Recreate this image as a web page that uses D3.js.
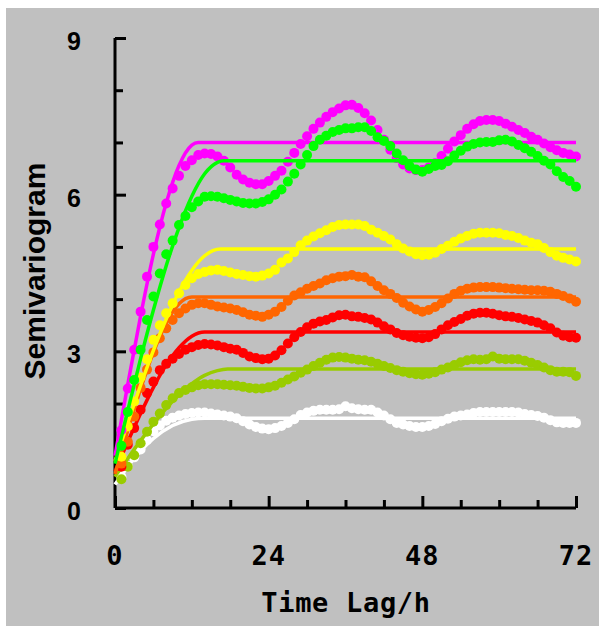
<!DOCTYPE html>
<html>
<head>
<meta charset="utf-8">
<script src="https://cdn.jsdelivr.net/npm/d3@7"></script>
<style>
  body { margin: 0; background: #fff; }
  svg { display: block; }
</style>
</head>
<body>
<div id="chart"></div>
<script>
// time lags (h) of the experimental semivariogram points
const lags = [1, 2, 3, 4, 5, 6, 7, 8, 9, 10, 11, 12, 13, 14, 15, 16, 17, 18, 19, 20,
  21, 22, 23, 24, 25, 26, 27, 28, 29, 30, 31, 32, 33, 34, 35, 36, 37, 38, 39, 40,
  41, 42, 43, 44, 45, 46, 47, 48, 49, 50, 51, 52, 53, 54, 55, 56, 57, 58, 59, 60,
  61, 62, 63, 64, 65, 66, 67, 68, 69, 70, 71, 72];

const magenta = [1.49, 2.29, 3.03, 3.76, 4.43, 5.0, 5.43, 5.83, 6.12, 6.36,
  6.55, 6.66, 6.76, 6.79, 6.78, 6.73, 6.65, 6.52, 6.38, 6.29,
  6.23, 6.2, 6.2, 6.26, 6.36, 6.46, 6.63, 6.8, 6.97, 7.12,
  7.26, 7.38, 7.49, 7.58, 7.65, 7.71, 7.72, 7.66, 7.56, 7.42,
  7.24, 7.05, 6.86, 6.7, 6.58, 6.5, 6.47, 6.47, 6.52, 6.6,
  6.74, 6.88, 7.02, 7.14, 7.26, 7.35, 7.41, 7.43, 7.43, 7.41,
  7.36, 7.3, 7.24, 7.18, 7.11, 7.05, 6.98, 6.91, 6.85, 6.8,
  6.77, 6.73];

const green = [1.19, 1.84, 2.45, 3.03, 3.6, 4.05, 4.49, 4.86, 5.12, 5.42,
  5.59, 5.76, 5.87, 5.96, 5.97, 5.96, 5.93, 5.9, 5.87, 5.84,
  5.83, 5.83, 5.86, 5.91, 6.0, 6.1, 6.25, 6.4, 6.58, 6.76,
  6.93, 7.05, 7.13, 7.2, 7.24, 7.27, 7.27, 7.29, 7.29, 7.22,
  7.1, 7.03, 6.93, 6.79, 6.66, 6.55, 6.48, 6.44, 6.49, 6.55,
  6.57, 6.64, 6.75, 6.84, 6.92, 6.97, 7.0, 7.01, 7.01, 7.04,
  7.05, 7.02, 6.95, 6.89, 6.82, 6.74, 6.65, 6.58, 6.45, 6.34,
  6.26, 6.15];

const yellow = [0.98, 1.56, 2.04, 2.5, 2.85, 3.22, 3.5, 3.73, 3.92, 4.11,
  4.27, 4.4, 4.48, 4.52, 4.55, 4.56, 4.54, 4.51, 4.48, 4.46,
  4.44, 4.43, 4.45, 4.49, 4.56, 4.7, 4.78, 4.9, 5.03, 5.12,
  5.2, 5.26, 5.32, 5.38, 5.42, 5.43, 5.43, 5.43, 5.4, 5.33,
  5.27, 5.21, 5.14, 5.05, 4.97, 4.91, 4.86, 4.84, 4.85, 4.89,
  4.96, 5.02, 5.1, 5.16, 5.21, 5.25, 5.27, 5.27, 5.27, 5.26,
  5.23, 5.21, 5.17, 5.12, 5.08, 5.05, 4.98, 4.9, 4.83, 4.79,
  4.76, 4.72];

const orange = [0.85, 1.27, 1.75, 2.3, 2.65, 2.98, 3.25, 3.44, 3.6, 3.73,
  3.82, 3.89, 3.92, 3.92, 3.89, 3.86, 3.84, 3.82, 3.79, 3.75,
  3.7, 3.68, 3.66, 3.7, 3.76, 3.85, 3.97, 4.07, 4.13, 4.2,
  4.25, 4.3, 4.36, 4.4, 4.43, 4.44, 4.46, 4.43, 4.42, 4.34,
  4.25, 4.17, 4.1, 4.02, 3.93, 3.86, 3.8, 3.76, 3.79, 3.85,
  3.92, 4.01, 4.1, 4.16, 4.2, 4.22, 4.23, 4.23, 4.23, 4.22,
  4.21, 4.2, 4.19, 4.18, 4.17, 4.17, 4.16, 4.14, 4.1, 4.06,
  4.01, 3.95];

const red = [0.79, 1.21, 1.53, 1.88, 2.2, 2.42, 2.64, 2.76, 2.86, 2.95,
  3.03, 3.08, 3.12, 3.14, 3.13, 3.11, 3.08, 3.05, 3.03, 2.97,
  2.9, 2.87, 2.85, 2.86, 2.92, 3.02, 3.15, 3.27, 3.37, 3.46,
  3.53, 3.57, 3.6, 3.65, 3.69, 3.7, 3.67, 3.66, 3.64, 3.61,
  3.55, 3.48, 3.42, 3.35, 3.31, 3.28, 3.26, 3.25, 3.27, 3.33,
  3.42, 3.5, 3.56, 3.62, 3.68, 3.72, 3.74, 3.74, 3.72, 3.69,
  3.67, 3.66, 3.64, 3.61, 3.58, 3.55, 3.5, 3.44, 3.36, 3.3,
  3.27, 3.26];

const yellowGreen = [0.55, 0.79, 1.01, 1.24, 1.46, 1.65, 1.81, 1.97, 2.1, 2.2,
  2.26, 2.31, 2.35, 2.37, 2.37, 2.37, 2.36, 2.35, 2.34, 2.32,
  2.3, 2.29, 2.29, 2.31, 2.34, 2.4, 2.46, 2.52, 2.59, 2.65,
  2.72, 2.78, 2.84, 2.88, 2.89, 2.88, 2.86, 2.84, 2.83, 2.8,
  2.76, 2.72, 2.68, 2.64, 2.61, 2.58, 2.56, 2.55, 2.57, 2.6,
  2.65, 2.69, 2.74, 2.79, 2.83, 2.85, 2.84, 2.85, 2.9, 2.86,
  2.85, 2.85, 2.85, 2.82, 2.78, 2.74, 2.69, 2.64, 2.61, 2.61,
  2.6, 2.53];

const white = [0.6, 0.8, 0.97, 1.12, 1.3, 1.47, 1.58, 1.67, 1.73, 1.77,
  1.8, 1.82, 1.83, 1.83, 1.81, 1.79, 1.77, 1.75, 1.72, 1.66,
  1.6, 1.55, 1.52, 1.51, 1.53, 1.57, 1.63, 1.7, 1.78, 1.83,
  1.86, 1.88, 1.88, 1.88, 1.89, 1.95, 1.91, 1.89, 1.88, 1.88,
  1.83, 1.77, 1.7, 1.63, 1.6, 1.57, 1.55, 1.55, 1.57, 1.61,
  1.66, 1.71, 1.75, 1.77, 1.79, 1.82, 1.84, 1.84, 1.84, 1.84,
  1.84, 1.84, 1.83, 1.8, 1.78, 1.76, 1.73, 1.68, 1.64, 1.63,
  1.63, 1.63];

// fitted model lines, [lag, value]
const fitMagenta = [[0, 1.0], [2, 2.37], [4, 3.68], [6, 4.86], [8, 5.84], [10, 6.56], [12, 6.95], [13, 7.0], [72, 7.0]];
const fitGreen = [[0, 0.85], [2, 1.87], [4, 2.86], [6, 3.79], [8, 4.64], [10, 5.37], [12, 5.97], [14, 6.4], [16, 6.62], [17, 6.65], [72, 6.65]];
const fitYellow = [[0, 0.9], [2, 1.63], [4, 2.35], [6, 3.02], [8, 3.62], [10, 4.14], [12, 4.55], [14, 4.83], [16.5, 4.96], [72, 4.96]];
const fitOrange = [[0, 0.65], [2, 1.49], [4, 2.28], [6, 2.98], [8, 3.54], [10, 3.91], [12, 4.04], [72, 4.04]];
const fitRed = [[0, 0.7], [2, 1.27], [4, 1.81], [6, 2.31], [8, 2.74], [10, 3.07], [12, 3.29], [14, 3.37], [72, 3.37]];
const fitYellowGreen = [[0, 0.6], [2, 0.95], [4, 1.29], [6, 1.61], [8, 1.91], [10, 2.17], [12, 2.38], [14, 2.54], [16, 2.63], [17.6, 2.66], [72, 2.66]];
const fitWhite = [[0, 0.45], [3, 0.95], [6, 1.33], [9, 1.58], [12, 1.7], [14, 1.72], [72, 1.72]];

const xTicks = [0, 24, 48, 72];
const yTicks = [0, 3, 6, 9];

const series = [
  { color: "#ffffff", values: white, fit: fitWhite },
  { color: "#99cc00", values: yellowGreen, fit: fitYellowGreen },
  { color: "#ff0000", values: red, fit: fitRed },
  { color: "#ff6600", values: orange, fit: fitOrange },
  { color: "#ffff00", values: yellow, fit: fitYellow },
  { color: "#ff00ff", values: magenta, fit: fitMagenta },
  { color: "#00ff00", values: green, fit: fitGreen }
];

const width = 599, height = 626;

const svg = d3.select("#chart").append("svg")
  .attr("width", width)
  .attr("height", height);

svg.append("rect")
  .attr("x", 6).attr("y", 8)
  .attr("width", width - 6).attr("height", height - 8)
  .attr("fill", "#c0c0c0");

const x = d3.scaleLinear().domain([0, 72]).range([115, 576]);
const y = d3.scaleLinear().domain([0, 9]).range([508, 38]);

// axes: ticks point inwards
const yAxis = d3.axisRight(y)
  .tickValues(d3.range(0, 10))
  .tickSize(8)
  .tickFormat("");
const yG = svg.append("g").attr("transform", `translate(${x(0)},0)`).call(yAxis);
yG.select(".domain").attr("stroke", "#000").attr("stroke-width", 3).attr("d", `M0,${y(9)}V${y(0)}`);
yG.selectAll(".tick line").attr("stroke", "#000").attr("stroke-width", 3)
  .attr("x2", d => d % 3 === 0 ? 11 : 8);

const xAxis = d3.axisTop(x)
  .tickValues(d3.range(0, 73, 6))
  .tickSize(8)
  .tickFormat("");
const xG = svg.append("g").attr("transform", `translate(0,${y(0)})`).call(xAxis);
xG.select(".domain").attr("stroke", "#000").attr("stroke-width", 3).attr("d", `M${x(0)},0H${x(72)}`);
xG.selectAll(".tick line").attr("stroke", "#000").attr("stroke-width", 3)
  .attr("y2", d => d % 24 === 0 ? -12 : -8);

svg.selectAll(".ylab")
  .data(yTicks)
  .enter().append("text")
  .attr("class", "ylab")
  .attr("x", 81)
  .attr("y", d => y(d) + 12)
  .attr("text-anchor", "end")
  .attr("font-family", "Liberation Sans, Arial, sans-serif")
  .attr("font-weight", "bold")
  .attr("font-size", 25)
  .text(d => d);

svg.selectAll(".xlab")
  .data(xTicks)
  .enter().append("text")
  .attr("class", "xlab")
  .attr("x", d => x(d))
  .attr("y", 565)
  .attr("text-anchor", "middle")
  .attr("font-family", "DejaVu Sans Mono, monospace")
  .attr("font-weight", "bold")
  .attr("font-size", 27)
  .attr("letter-spacing", 1)
  .text(d => d);

svg.append("text")
  .attr("x", 346)
  .attr("y", 612)
  .attr("text-anchor", "middle")
  .attr("font-family", "DejaVu Sans Mono, monospace")
  .attr("font-weight", "bold")
  .attr("font-size", 27)
  .attr("letter-spacing", 0.7)
  .text("Time Lag/h");

svg.append("text")
  .attr("transform", "translate(45,271) rotate(-90)")
  .attr("text-anchor", "middle")
  .attr("font-family", "Liberation Sans, Arial, sans-serif")
  .attr("font-weight", "bold")
  .attr("font-size", 30)
  .text("Semivariogram");

const fitLine = d3.line()
  .x(d => x(d[0]))
  .y(d => y(d[1]))
  .curve(d3.curveMonotoneX);

series.forEach(s => {
  const g = svg.append("g");
  g.selectAll("circle")
    .data(s.values)
    .enter().append("circle")
    .attr("cx", (d, i) => x(lags[i]))
    .attr("cy", d => y(d))
    .attr("r", 5)
    .attr("fill", s.color);
  g.append("path")
    .datum(s.fit)
    .attr("d", fitLine)
    .attr("fill", "none")
    .attr("stroke", s.color)
    .attr("stroke-width", 3.5);
});
</script>
</body>
</html>
